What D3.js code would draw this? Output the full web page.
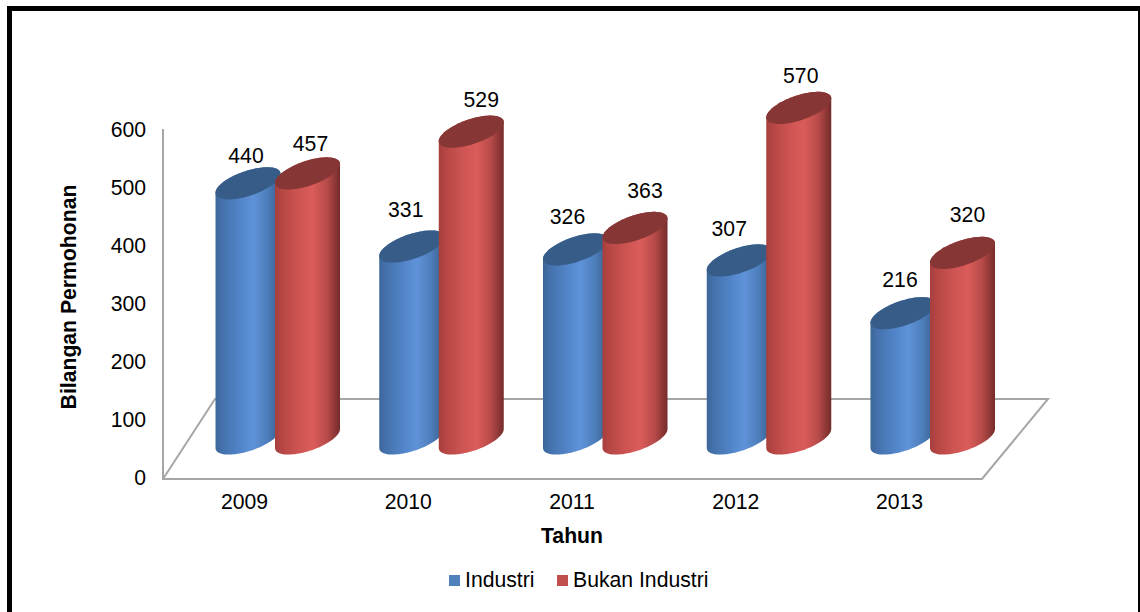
<!DOCTYPE html>
<html><head><meta charset="utf-8">
<script src="https://cdn.jsdelivr.net/npm/d3@7/dist/d3.min.js"></script>
<style>
html,body{margin:0;padding:0;background:#fff;overflow:hidden}
text{font-family:"Liberation Sans",Arial,sans-serif;fill:#000}
</style></head><body>
<script>
const years = ["2009","2010","2011","2012","2013"];
const industri = [440,331,326,307,216];
const bukanIndustri = [457,529,363,570,320];
const yTicks = [0,100,200,300,400,500,600];
const seriesNames = ["Industri","Bukan Industri"];
// small hand nudges of the value labels relative to their bars
const labelNudgeIndustri = [[-2,-28],[-6,-37],[-8,-33],[-10,-32],[-3,-34]];
const labelNudgeBukan = [[3,-30],[10,-32],[10,-37],[2,-32],[5,-38]];

const W=1140,H=612,FS=21.2;
const svg=d3.select("body").append("svg").attr("width",W).attr("height",H).style("display","block");
const defs=svg.append("defs");
function grad(id,stops){
  const g=defs.append("linearGradient").attr("id",id).attr("x1","0").attr("x2","1").attr("y1","0").attr("y2","0");
  stops.forEach(s=>g.append("stop").attr("offset",s[0]).attr("stop-color",s[1]));
}
grad("gBlue",[[0,"#3b6698"],[.1,"#4471ab"],[.35,"#5083c6"],[.58,"#5f92d8"],[.8,"#4d7dba"],[1,"#375e8e"]]);
grad("gRed",[[0,"#a63f3d"],[.1,"#b54644"],[.35,"#cc5452"],[.58,"#db5c5a"],[.8,"#b74b49"],[1,"#742b2a"]]);

// frame
svg.append("path").attr("d",`M9.5,${H+10}V8.5H${W+10}`).attr("fill","none").attr("stroke","#000").attr("stroke-width",5);
svg.append("rect").attr("x",W-2).attr("y",6).attr("width",2).attr("height",H).attr("fill","#000");

const y=d3.scaleLinear().domain([0,600]).range([477,129]);
const x=d3.scalePoint().domain(years).range([244,899]);

// floor and wall
const fl={l:163,r:982,f:y(0)+2,dx:66,b:y(0)-78};
const gray="#a6a6a6";
const floor=d3.path();
floor.moveTo(fl.l,y(600));floor.lineTo(fl.l,fl.f);floor.lineTo(fl.r,fl.f);floor.lineTo(fl.r+fl.dx,fl.b);
floor.lineTo(fl.l+52,fl.b);floor.lineTo(fl.l,fl.f);
svg.append("path").attr("d",floor.toString()).attr("fill","none").attr("stroke",gray).attr("stroke-width",2);

// axes
const gy=svg.append("g").attr("transform","translate(146,1)")
  .call(d3.axisLeft(y).tickValues(yTicks).tickSize(0).tickPadding(0));
gy.select(".domain").remove();
const gx=svg.append("g").attr("transform",`translate(0,${fl.f+15})`)
  .call(d3.axisBottom(x).tickSize(0).tickPadding(0));
gx.select(".domain").remove();
svg.selectAll("g.tick text").attr("font-size",FS).style("font-family",'"Liberation Sans",Arial,sans-serif').attr("fill","#000");

// cylinders
const Rx=32.5,Skew=9.5,Ry=13,baseLift=38.5;
function ell(cx,cy,t){return [cx+Rx*Math.cos(t), cy-Skew*Math.cos(t)+Ry*Math.sin(t)];}
function ellipsePts(cx,cy,a0,a1,n=48){return d3.range(n+1).map(i=>ell(cx,cy,a0+(a1-a0)*i/n));}
const line=d3.line();
function cylinder(cx,v,fill,top){
  const by=y(0)-baseLift, ty=y(v)-baseLift;
  const g=svg.append("g");
  const body=[...ellipsePts(cx,ty,Math.PI,2*Math.PI),...ellipsePts(cx,by,0,Math.PI)];
  g.append("path").attr("d",line(body)+"Z").attr("fill",`url(#${fill})`);
  g.append("path").attr("d",line(ellipsePts(cx,ty,0,2*Math.PI,96))+"Z").attr("fill",top);
}
const offB=4,offR=63.5;
years.forEach((yr,i)=>{
  cylinder(x(yr)+offB,industri[i],"gBlue","#365c87");
  cylinder(x(yr)+offR,bukanIndustri[i],"gRed","#853635");
});
// value labels
function labels(vals,off,nudge){
  svg.append("g").selectAll("text").data(vals).join("text")
   .attr("x",(d,i)=>x(years[i])+off+nudge[i][0])
   .attr("y",(d,i)=>y(d)-baseLift+nudge[i][1])
   .attr("text-anchor","middle").attr("dominant-baseline","central")
   .attr("font-size",FS).text(d=>d);
}
labels(industri,offB,labelNudgeIndustri);
labels(bukanIndustri,offR,labelNudgeBukan);

// axis titles
svg.append("text").attr("transform","translate(68,297) rotate(-90)").attr("text-anchor","middle")
  .attr("dominant-baseline","central").attr("font-size",FS).attr("font-weight","bold").text("Bilangan Permohonan");
svg.append("text").attr("x",572).attr("y",543).attr("text-anchor","middle")
  .attr("font-size",FS).attr("font-weight","bold").text("Tahun");

// legend
const leg=[[449,"#4f81bd"],[557,"#c0504d"]];
leg.forEach((l,i)=>{
  svg.append("rect").attr("x",l[0]).attr("y",575).attr("width",11).attr("height",11).attr("fill",l[1]);
  svg.append("text").attr("x",l[0]+16).attr("y",587).attr("font-size",FS).text(seriesNames[i]);
});
</script></body></html>
